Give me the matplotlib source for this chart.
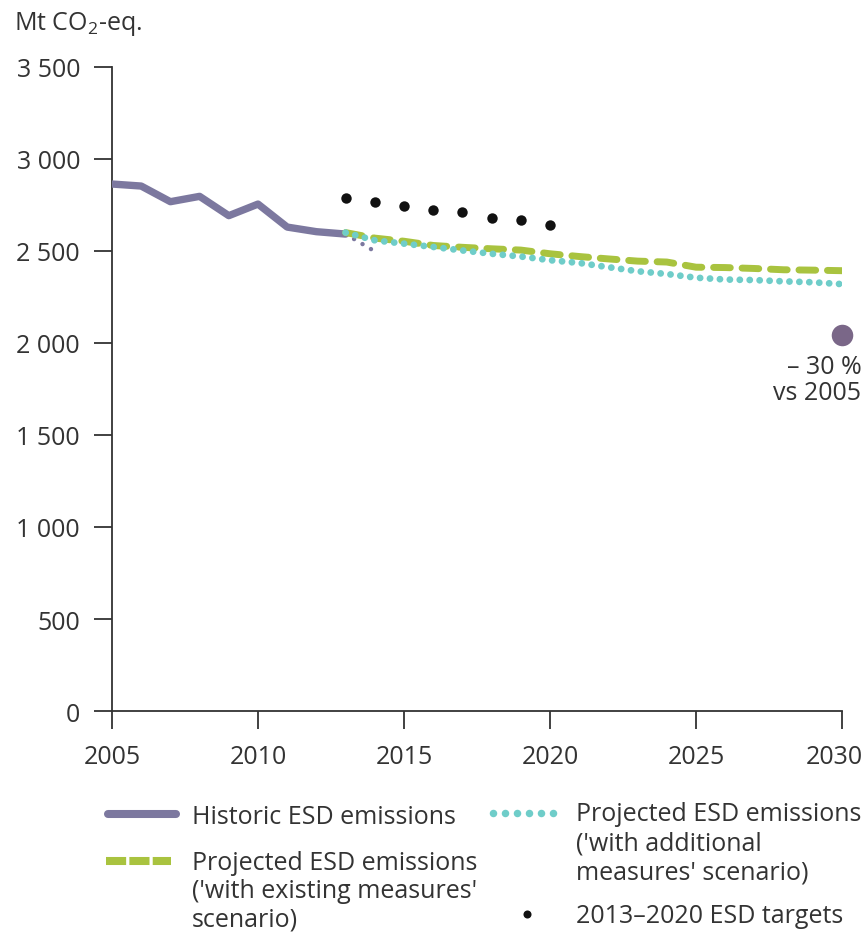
import matplotlib.pyplot as plt
from matplotlib.transforms import ScaledTranslation

plt.rcParams['font.family'] = ['Open Sans', 'DejaVu Sans']
plt.rcParams['mathtext.fontset'] = 'custom'
plt.rcParams['mathtext.rm'] = 'Open Sans'

# data
hist_years = [2005, 2006, 2007, 2008, 2009, 2010, 2011, 2012, 2013]
hist = [2864, 2853, 2768, 2797, 2692, 2755, 2630, 2605, 2592]
proxy_years = [2013, 2014]
proxy = [2592, 2498]
proj_years = list(range(2013, 2031))
wem = [2600, 2570, 2553, 2530, 2520, 2512, 2505, 2485, 2470, 2457,
       2445, 2440, 2412, 2410, 2405, 2398, 2396, 2393]
wam = [2600, 2558, 2540, 2522, 2503, 2485, 2470, 2450, 2435, 2412,
       2390, 2375, 2355, 2345, 2342, 2335, 2330, 2320]
target_years = [2013, 2014, 2015, 2016, 2017, 2018, 2019, 2020]
targets = [2790, 2764, 2746, 2723, 2714, 2679, 2670, 2643]
target_2030 = 2045
xticks = [2005, 2010, 2015, 2020, 2025, 2030]
yticks = [0, 500, 1000, 1500, 2000, 2500, 3000, 3500]
ytick_labels = ['0', '500', '1 000', '1 500', '2 000', '2 500', '3 000', '3 500']

c_hist = '#7c789f'
c_wem = '#a9c33f'
c_wam = '#6fcdc9'
c_dot = '#7a6788'
c_txt = '#333333'
fs = 18

W, H = 868, 937
fig = plt.figure(figsize=(W / 100, H / 100), dpi=100)
ax = fig.add_axes([112 / W, 1 - 712 / H, 730 / W, 644 / H])

ax.plot(hist_years, hist, color=c_hist, lw=5.3, solid_joinstyle='round',
        solid_capstyle='round', zorder=3)
ax.plot(proxy_years, proxy, color=c_hist, lw=3.2, dashes=(0.01, 2.2),
        dash_capstyle='round', zorder=2)
ax.plot(proj_years, wem, color=c_wem, lw=5, dashes=(2.4, 1.7),
        dash_capstyle='round', zorder=4)
ax.plot(proj_years, wam, color=c_wam, lw=4.9, dashes=(0.01, 1.45),
        dash_capstyle='round', zorder=5)
ax.plot(target_years, targets, 'o', color='#111111', ms=7.5, mec='none', zorder=6)
ax.plot([2030], [target_2030], 'o', color=c_dot, ms=15.5, mec='none',
        clip_on=False, zorder=6)
ax.annotate('– 30 %\nvs 2005', xy=(2030, target_2030), xytext=(14, -14),
            textcoords='offset points', ha='right', va='top', fontsize=fs,
            color=c_txt, linespacing=1.05)

ax.set_xlim(2005, 2030)
ax.set_ylim(0, 3500)
ax.set_xticks(xticks)
ax.set_yticks(yticks)
ax.set_yticklabels(ytick_labels)
for s in ['top', 'right']:
    ax.spines[s].set_visible(False)
for s in ['left', 'bottom']:
    ax.spines[s].set_linewidth(1.3)
    ax.spines[s].set_color(c_txt)
ax.tick_params(axis='y', length=13, width=1.3, pad=10, labelsize=fs,
               color=c_txt, labelcolor=c_txt)
ax.tick_params(axis='x', length=13, width=1.3, pad=11, labelsize=fs,
               color=c_txt, labelcolor=c_txt)
# last year label is pulled in so it stays on the page
lab = ax.get_xticklabels()[-1]
lab.set_transform(lab.get_transform() + ScaledTranslation(-0.08, 0, fig.dpi_scale_trans))

# overlay in pixel units for the unit label and legend
lax = fig.add_axes([0, 0, 1, 1], zorder=-1)
lax.set_xlim(0, W)
lax.set_ylim(H, 0)
lax.axis('off')

lax.text(14, 30, r'Mt CO$_\mathrm{2}$-eq.', fontsize=fs, color=c_txt, va='baseline')

# legend keys
lax.plot([108, 176], [815, 815], color=c_hist, lw=5.8, solid_capstyle='round')
lax.plot([106, 171], [862, 862], color=c_wem, lw=5.8, dashes=(2.5, 0.4))
lax.plot([493, 505, 517, 529, 541, 553], [814] * 6, 'o', color=c_wam, ms=5.4, mec='none')
lax.plot([527], [915], 'o', color='#111111', ms=5.8, mec='none')

def legend_text(x, y0, lines, step):
    for i, t in enumerate(lines):
        lax.text(x, y0 + i * step + 9, t, fontsize=fs, color=c_txt, va='baseline')

legend_text(192, 815, ['Historic ESD emissions'], 29)
legend_text(192, 861, ['Projected ESD emissions', "('with existing measures'", 'scenario)'], 28.5)
legend_text(576, 812, ['Projected ESD emissions', "('with additional", "measures' scenario)"], 29.5)
legend_text(576, 914, ['2013–2020 ESD targets'], 29)

fig.savefig('out.png', dpi=100)
